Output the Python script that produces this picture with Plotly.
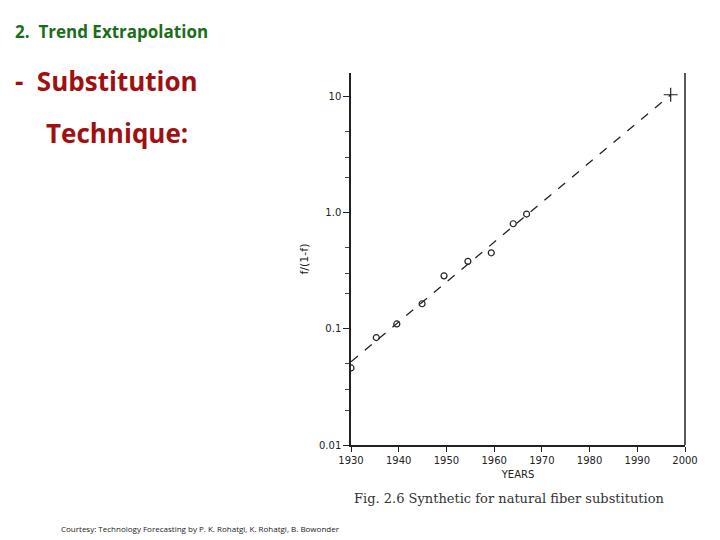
import plotly.graph_objects as go

years = [1930, 1935.3, 1939.6, 1944.9, 1949.5, 1954.5, 1959.4, 1964.0, 1966.8]
ratio = [0.046, 0.084, 0.11, 0.164, 0.285, 0.38, 0.45, 0.80, 0.97]
fit_years = [1930, 1997]
fit_ratio = [0.052, 10.3]
proj_year = [1997]
proj_ratio = [10.3]
ytick_vals = [0.01, 0.1, 1, 10]
ytick_text = ["0.01", "0.1", "1.0", "10"]

L, R, T, B = 343, 43, 65, 103
PW, PH = 720 - L - R, 540 - T - B

fig = go.Figure()
fig.add_trace(go.Scatter(x=fit_years, y=fit_ratio, mode="lines",
                         line=dict(color="#222", width=1.3, dash="dash")))
fig.add_trace(go.Scatter(x=years, y=ratio, mode="markers",
                         marker=dict(symbol="circle-open", size=6, color="#222", line=dict(width=1.2))))
fig.add_trace(go.Scatter(x=proj_year, y=proj_ratio, mode="markers",
                         marker=dict(symbol="cross-thin-open", size=10, color="#222", line=dict(width=1.2))))

fig.update_layout(
    width=720, height=540, showlegend=False,
    paper_bgcolor="white", plot_bgcolor="white",
    margin=dict(l=L, r=R, t=T, b=B),
    font=dict(family="DejaVu Sans", color="#222", size=10),
    xaxis=dict(range=[1930, 2000], dtick=10, showgrid=False, zeroline=False,
               showline=True, linecolor="#222", linewidth=1.5,
               ticks="outside", ticklen=5, tickcolor="#222",
               title=dict(text="YEARS", font=dict(size=10), standoff=6)),
    yaxis=dict(type="log", range=[-2, 1.2], tickvals=ytick_vals, ticktext=ytick_text,
               showgrid=False, zeroline=False, showline=True, linecolor="#222", linewidth=1.5,
               ticks="outside", ticklen=6, tickcolor="#222",
               minor=dict(ticks="outside", ticklen=4, tickcolor="#444",
                          tickvals=[0.02, 0.03, 0.05, 0.2, 0.3, 0.5, 2, 3, 5]),
               title=dict(text="f/(1-f)", font=dict(size=11), standoff=8)),
)
fig.add_shape(type="line", xref="paper", yref="paper", x0=1, x1=1, y0=0, y1=1.0,
              line=dict(color="#222", width=1.5))

def txt(s, x, y, size, color, fam="Open Sans", bold=False):
    x -= 9
    y -= 8
    fig.add_annotation(text=f"<b>{s}</b>" if bold else s,
                       x=(x - L) / PW, y=(540 - B - y) / PH, xref="paper", yref="paper",
                       xanchor="left", yanchor="middle", showarrow=False,
                       font=dict(size=size, color=color, family=fam))

txt("2.  Trend Extrapolation", 14, 31, 17, "#1a6e1a", bold=True)
txt("-  Substitution", 14, 81, 26, "#a01010", bold=True)
txt("Technique:", 45, 133, 26, "#a01010", bold=True)
txt("Fig. 2.6 Synthetic for natural fiber substitution", 353, 498, 13, "#333", fam="DejaVu Serif")
txt("Courtesy: Technology Forecasting by P. K. Rohatgi, K. Rohatgi, B. Bowonder", 60, 528, 8, "#222")
fig.write_html("out.html")
